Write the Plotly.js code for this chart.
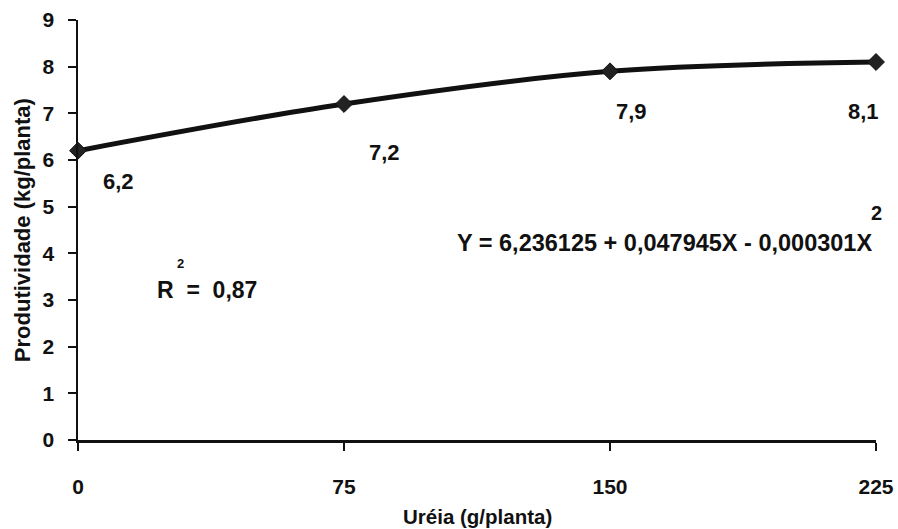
<!DOCTYPE html>
<html>
<head>
<meta charset="utf-8">
<script src="https://cdn.plot.ly/plotly-3.0.1.min.js"></script>
<style>html,body{margin:0;padding:0;background:#fff;}#chart{width:898px;height:529px;}</style>
</head>
<body>
<div id="chart"></div>
<script>
const doses = [0, 75, 150, 225];
const produtividade = [6.2, 7.2, 7.9, 8.1];
const valueLabels = ["6,2", "7,2", "7,9", "8,1"];
const xTicks = [0, 75, 150, 225];
const yTicks = [0, 1, 2, 3, 4, 5, 6, 7, 8, 9];

const F = "'Liberation Sans', Arial, sans-serif";
const C = '#111';
const labelOffsets = [[11.5, -0.67], [11.3, -1.03], [6.2, -0.87], [-3.4, -1.07]];

function ann(x, y, xref, yref, text, size, extra) {
  return Object.assign({
    x: x, y: y, xref: xref, yref: yref, text: text, showarrow: false,
    xanchor: 'center', yanchor: 'middle',
    font: {family: F, size: size, color: C}
  }, extra || {});
}

const annotations = doses.map((d, i) =>
  ann(d + labelOffsets[i][0], produtividade[i] + labelOffsets[i][1], 'x', 'y',
      '<b>' + valueLabels[i] + '</b>', 22));
annotations.push(ann(0.735, 0.469, 'paper', 'paper', '<b>Y = 6,236125 + 0,047945X - 0,000301X</b>', 23.5));
annotations.push(ann(1.001, 0.540, 'paper', 'paper', '<b>2</b>', 20));
annotations.push(ann(0.0965, 0.357, 'paper', 'paper', '<b>R  =  0,87</b>', 23, {xanchor: 'left'}));
annotations.push(ann(0.128, 0.421, 'paper', 'paper', '<b>2</b>', 13));
annotations.push(ann(-0.070, 0.5, 'paper', 'paper', '<b>Produtividade (kg/planta)</b>', 22, {textangle: -90}));
annotations.push(ann(0.5, -0.183, 'paper', 'paper', '<b>Uréia (g/planta)</b>', 20.5));

const trace = {
  x: doses, y: produtividade, type: 'scatter', mode: 'lines+markers',
  line: {color: C, width: 5, shape: 'spline'},
  marker: {symbol: 'diamond', size: 13, color: '#222', line: {color: C, width: 1}},
  cliponaxis: false, hoverinfo: 'skip'
};

const layout = {
  width: 898, height: 529,
  margin: {l: 78, r: 22, t: 20, b: 89},
  paper_bgcolor: '#fff', plot_bgcolor: '#fff',
  showlegend: false,
  xaxis: {
    range: [0, 225], tickvals: xTicks, ticktext: xTicks.map(v => '<b>' + v + '</b>'),
    showgrid: false, zeroline: false, showline: true, linecolor: C, linewidth: 2.5,
    ticks: 'outside', ticklen: 8, tickwidth: 2, tickcolor: C,
    ticklabelstandoff: 18,
    tickfont: {family: F, size: 21, color: C}
  },
  yaxis: {
    range: [0, 9], tickvals: yTicks, ticktext: yTicks.map(v => '<b>' + v + '</b>'),
    showgrid: false, zeroline: false, showline: true, linecolor: C, linewidth: 2.5,
    ticks: 'outside', ticklen: 8, tickwidth: 2, tickcolor: C,
    ticklabelstandoff: 9,
    tickfont: {family: F, size: 21, color: C}
  },
  annotations: annotations
};

Plotly.newPlot('chart', [trace], layout, {displayModeBar: false, staticPlot: true});
</script>
</body>
</html>
